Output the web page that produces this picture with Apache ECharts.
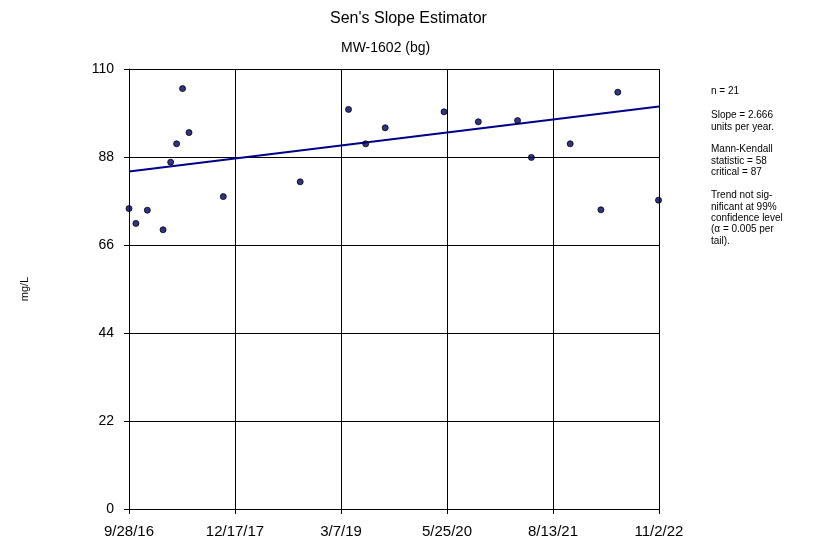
<!DOCTYPE html>
<html>
<head>
<meta charset="utf-8">
<script src="https://cdn.jsdelivr.net/npm/echarts@6/dist/echarts.min.js"></script>
<style>
  html, body { margin: 0; padding: 0; background: #fff; }
  #chart { width: 816px; height: 544px; }
</style>
</head>
<body>
<div id="chart"></div>
<script>
// Sampling dates and measured concentrations (mg/L) for MW-1602 (bg)
const sampleDates = [
  '2016-09-28', '2016-10-27', '2016-12-14', '2017-02-18', '2017-03-22',
  '2017-04-16', '2017-05-11', '2017-06-07', '2017-10-29', '2018-09-17',
  '2019-04-08', '2019-06-19', '2019-09-09', '2020-05-13', '2020-10-04',
  '2021-03-18', '2021-05-15', '2021-10-25', '2022-03-03', '2022-05-13',
  '2022-10-31'
];
const sampleValues = [
  75.1, 71.4, 74.7, 69.8, 86.7,
  91.3, 105.1, 94.1, 78.1, 81.8,
  99.9, 91.3, 95.3, 99.3, 96.8,
  97.1, 87.9, 91.3, 74.8, 104.2,
  77.2
];

// Axis range and tick labels
const axisStartDate = '2016-09-28';
const axisEndDate = '2022-11-02';
const xTickLabels = ['9/28/16', '12/17/17', '3/7/19', '5/25/20', '8/13/21', '11/2/22'];
const yTicks = [0, 22, 44, 66, 88, 110];

// Sen's slope trend (value at axis start, slope per year)
const trendStart = [84.4];
const trendSlopePerYear = [2.666];

const statsLines = [
  ['n = 21'],
  ['Slope = 2.666', 'units per year.'],
  ['Mann-Kendall', 'statistic = 58', 'critical = 87'],
  ['Trend not sig-', 'nificant at 99%', 'confidence level', '(\u03b1 = 0.005 per', 'tail).']
];

const DAY = 86400000;
const t0 = Date.parse(axisStartDate);
const dayOf = s => Math.round((Date.parse(s) - t0) / DAY);
const xMax = dayOf(axisEndDate);
const xStep = xMax / (xTickLabels.length - 1);

const points = sampleDates.map((d, i) => [dayOf(d), sampleValues[i]]);
const trend = [
  [0, trendStart[0]],
  [xMax, trendStart[0] + trendSlopePerYear[0] * xMax / 365.25]
];

const FONT = '"Liberation Sans", Arial, sans-serif';
const chart = echarts.init(document.getElementById('chart'), null, { renderer: 'canvas' });

const graphics = [
  { type: 'text', left: 330, top: 11,
    style: { text: "Sen's Slope Estimator", font: '16px ' + FONT, fill: '#000' } },
  { type: 'text', left: 341, top: 41,
    style: { text: 'MW-1602 (bg)', font: '14px ' + FONT, fill: '#000' } },
  { type: 'text', x: 25, y: 289, rotation: Math.PI / 2,
    style: { text: 'mg/L', font: '11px ' + FONT, fill: '#000',
             align: 'center', verticalAlign: 'middle' } }
];
const blockTops = [86, 110, 144, 190];
statsLines.forEach((lines, i) => {
  graphics.push({
    type: 'text', left: 711, top: blockTops[i],
    style: { text: lines.join('\n'), font: '10px ' + FONT, lineHeight: 11.3, fill: '#000' }
  });
});

chart.setOption({
  animation: false,
  backgroundColor: '#fff',
  grid: { left: 129, top: 69, width: 530, height: 440, containLabel: false },
  xAxis: {
    type: 'value', min: 0, max: xMax, interval: xStep,
    axisLine: { show: true, lineStyle: { color: '#000', width: 1 } },
    axisTick: { show: true, length: 5, inside: false, lineStyle: { color: '#000' } },
    splitLine: { show: true, lineStyle: { color: '#000', width: 1 } },
    axisLabel: {
      margin: 15, color: '#000', fontFamily: FONT, fontSize: 15,
      showMinLabel: true, showMaxLabel: true,
      formatter: v => xTickLabels[Math.round(v / xStep)] || ''
    }
  },
  yAxis: {
    type: 'value', min: yTicks[0], max: yTicks[yTicks.length - 1], interval: yTicks[1] - yTicks[0],
    axisLine: { show: true, lineStyle: { color: '#000', width: 1 } },
    axisTick: { show: true, length: 5, lineStyle: { color: '#000' } },
    splitLine: { show: true, lineStyle: { color: '#000', width: 1 } },
    axisLabel: { margin: 15, color: '#000', fontFamily: FONT, fontSize: 14 }
  },
  graphic: graphics,
  series: [
    {
      type: 'line', data: trend, symbol: 'none', z: 3,
      lineStyle: { color: '#00008B', width: 2 }
    },
    {
      type: 'scatter', data: points, symbol: 'circle', symbolSize: 6, z: 4,
      itemStyle: { color: '#000066', borderColor: '#000', borderWidth: 1 }
    }
  ]
});
</script>
</body>
</html>
